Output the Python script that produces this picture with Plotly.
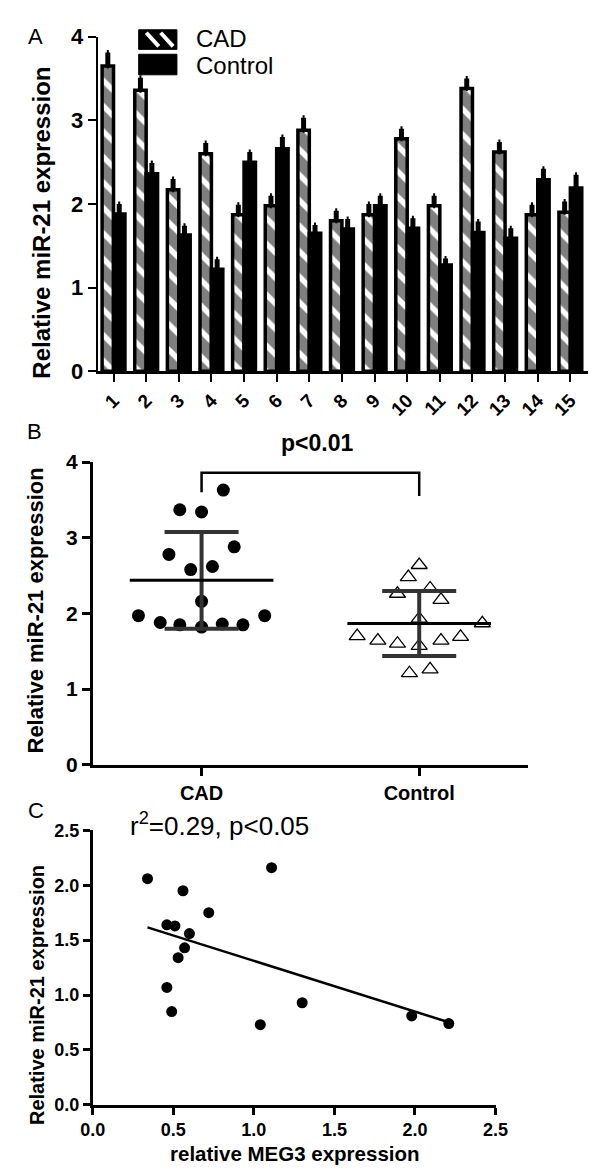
import numpy as np
import plotly.graph_objects as go

FONT = "Liberation Sans, Arial, sans-serif"
W, H = 600, 1173

# ---------------- Panel A data ----------------
samples = [str(i) for i in range(1, 16)]
cad_a = [3.65, 3.36, 2.17, 2.60, 1.87, 1.98, 2.88, 1.80, 1.87, 2.78, 1.98, 3.38, 2.62, 1.87, 1.90]
ctrl_a = [1.88, 2.36, 1.63, 1.22, 2.50, 2.66, 1.65, 1.70, 1.98, 1.71, 1.27, 1.66, 1.59, 2.29, 2.19]
cad_a_err = [0.16, 0.15, 0.13, 0.13, 0.12, 0.12, 0.15, 0.12, 0.13, 0.12, 0.12, 0.12, 0.12, 0.12, 0.13]
ctrl_a_err = [0.12, 0.13, 0.11, 0.12, 0.12, 0.14, 0.10, 0.12, 0.12, 0.12, 0.08, 0.13, 0.12, 0.13, 0.16]

# ---------------- Panel B data ----------------
groups = ["CAD", "Control"]
cad_b = [3.63, 3.37, 3.34, 2.88, 2.78, 2.58, 2.62, 2.16, 1.97, 1.97, 1.88, 1.85, 1.82, 1.86, 1.85]
cad_b_jitter = [0.10, -0.10, 0.0, 0.15, -0.15, -0.05, 0.05, 0.0, -0.29, 0.29, -0.19, -0.10, 0.0, 0.095, 0.19]
ctrl_b = [2.64, 2.48, 2.33, 2.26, 2.18, 1.93, 1.87, 1.70, 1.69, 1.64, 1.64, 1.60, 1.57, 1.21, 1.26]
ctrl_b_jitter = [0.0, -0.05, 0.05, -0.10, 0.10, 0.0, 0.29, -0.285, 0.19, -0.19, 0.10, -0.10, 0.0, -0.045, 0.05]
bracket_y = [3.60, 3.86, 3.86, 3.55]
p_text_b = "p&lt;0.01"

# ---------------- Panel C data ----------------
meg3 = [0.34, 1.11, 0.56, 0.72, 0.46, 0.51, 0.60, 0.57, 0.53, 0.46, 0.49, 1.04, 1.30, 1.98, 2.21]
mir21 = [2.06, 2.16, 1.95, 1.75, 1.64, 1.63, 1.56, 1.43, 1.34, 1.07, 0.85, 0.73, 0.93, 0.81, 0.74]
stat_text_c = "r<sup>2</sup>=0.29, p&lt;0.05"


def px_x(p):
    return p / W


def px_y(p):
    return 1 - p / H


fig = go.Figure()

# Panel A bars
fig.add_trace(go.Bar(
    x=samples, y=cad_a, name="CAD", xaxis="x", yaxis="y",
    marker=dict(color="white", line=dict(color="black", width=3.5),
                pattern=dict(shape="\\", fgcolor="black", bgcolor="white", size=18, solidity=0.7)),
    error_y=dict(type="data", symmetric=False, array=cad_a_err, arrayminus=[0] * len(cad_a),
                 color="black", thickness=5, width=1),
))
fig.add_trace(go.Bar(
    x=samples, y=ctrl_a, name="Control", xaxis="x", yaxis="y",
    marker=dict(color="black", line=dict(color="black", width=3.5)),
    error_y=dict(type="data", symmetric=False, array=ctrl_a_err, arrayminus=[0] * len(ctrl_a),
                 color="black", thickness=5, width=1),
))

# Panel B points
cad_x = [0 + j for j in cad_b_jitter]
ctrl_x = [1 + j for j in ctrl_b_jitter]
fig.add_trace(go.Scatter(x=cad_x, y=cad_b, mode="markers", xaxis="x2", yaxis="y2",
                         marker=dict(symbol="circle", size=13, color="black")))
fig.add_trace(go.Scatter(x=ctrl_x, y=ctrl_b, mode="markers", xaxis="x2", yaxis="y2",
                         marker=dict(symbol="triangle-up-open", size=14, color="black",
                                     line=dict(width=1.3, color="black"))))
for gi, vals in enumerate([cad_b, ctrl_b]):
    m = float(np.mean(vals))
    sd = float(np.std(vals, ddof=1))
    fig.add_trace(go.Scatter(x=[gi], y=[m], mode="markers", xaxis="x2", yaxis="y2",
                             marker=dict(size=1, color="rgba(0,0,0,0)"),
                             error_y=dict(type="data", array=[sd], color="#333333", thickness=4, width=37)))
    fig.add_trace(go.Scatter(x=[gi - 0.33, gi + 0.33], y=[m, m], mode="lines", xaxis="x2", yaxis="y2",
                             line=dict(color="black", width=3)))
fig.add_trace(go.Scatter(x=[0, 0, 1, 1], y=bracket_y, mode="lines", xaxis="x2", yaxis="y2",
                         line=dict(color="black", width=2.5), cliponaxis=False))

# Panel C
fig.add_trace(go.Scatter(x=meg3, y=mir21, mode="markers", xaxis="x3", yaxis="y3",
                         marker=dict(symbol="circle", size=11, color="black")))
slope, intercept = np.polyfit(meg3, mir21, 1)
xl = np.array([min(meg3), max(meg3)])
fig.add_trace(go.Scatter(x=xl, y=slope * xl + intercept, mode="lines", xaxis="x3", yaxis="y3",
                         line=dict(color="black", width=2.5)))

axis_common = dict(showgrid=False, zeroline=False, showline=True, linecolor="black",
                   ticks="outside", tickcolor="black")

fig.update_layout(
    width=W, height=H, margin=dict(l=0, r=0, t=0, b=0),
    paper_bgcolor="white", plot_bgcolor="white", showlegend=False,
    barmode="group", bargap=0.3, bargroupgap=0,
    font=dict(family=FONT, color="black"),
    xaxis=dict(domain=[px_x(80), px_x(593)], anchor="y", type="category",
               range=[-0.49, 14.55], tickangle=-45, linewidth=2.5, ticklen=8, tickwidth=2,
               tickfont=dict(size=19, weight="bold"), **axis_common),
    yaxis=dict(domain=[px_y(359), px_y(17)], anchor="x", range=[0, 4], dtick=1,
               linewidth=2, ticklen=8, tickwidth=2,
               tickfont=dict(size=22, weight="bold"), **axis_common),
    xaxis2=dict(domain=[px_x(75), px_x(530)], anchor="y2", range=[-0.5, 1.5],
                tickvals=[0, 1], ticktext=groups, linewidth=2.5, ticklen=8, tickwidth=2.5,
                tickfont=dict(size=20, weight="bold"), **axis_common),
    yaxis2=dict(domain=[px_y(761), px_y(451.7)], anchor="x2", range=[0, 4], dtick=1,
                linewidth=2.5, ticklen=8, tickwidth=2.5,
                tickfont=dict(size=21, weight="bold"), **axis_common),
    xaxis3=dict(domain=[px_x(75), px_x(496)], anchor="y3", range=[0, 2.5], dtick=0.5,
                tickformat=".1f", linewidth=2.5, ticklen=7, tickwidth=2.5,
                tickfont=dict(size=18, weight="bold"), **axis_common),
    yaxis3=dict(domain=[px_y(1108.5), px_y(828)], anchor="x3", range=[0, 2.5], dtick=0.5,
                tickformat=".1f", linewidth=2.5, ticklen=7, tickwidth=2.5,
                tickfont=dict(size=18, weight="bold"), **axis_common),
)

ann = []


def add_text(text, x, y, size, bold=False, angle=0, xanchor="center"):
    ann.append(dict(text=text, x=px_x(x), y=px_y(y), xref="paper", yref="paper",
                    showarrow=False, textangle=angle, xanchor=xanchor, yanchor="middle",
                    font=dict(size=size, family=FONT, color="black",
                              weight="bold" if bold else "normal")))


# panel letters
add_text("A", 15, 17, 22)
add_text("B", 14, 420, 22)
add_text("C", 16, 808, 22)
# axis titles
add_text("Relative miR-21 expression", 21, 207, 24, bold=True, angle=-90)
add_text("Relative miR-21 expression", 15, 603, 22, bold=True, angle=-90)
add_text("Relative miR-21 expression", 17, 996, 20, bold=True, angle=-90)
add_text("relative MEG3 expression", 286, 1158, 20.5, bold=True)
# legend texts
add_text("CAD", 181, 19, 24, xanchor="left")
add_text("Control", 181, 46, 24, xanchor="left")
# stats text
add_text(p_text_b, 309, 432, 23, bold=True)
add_text(stat_text_c, 112, 822, 26, xanchor="left")

fig.update_layout(annotations=ann)

# legend swatches (decoration)
shapes = [
    dict(type="rect", xref="paper", yref="paper", x0=px_x(123), x1=px_x(163), y0=px_y(30), y1=px_y(10),
         fillcolor="black", line=dict(color="black", width=1)),
    dict(type="rect", xref="paper", yref="paper", x0=px_x(123), x1=px_x(163), y0=px_y(56), y1=px_y(35),
         fillcolor="black", line=dict(color="black", width=1)),
]
for sx in [131, 146]:
    shapes.append(dict(type="line", xref="paper", yref="paper", x0=px_x(sx), y0=px_y(13),
                       x1=px_x(sx + 13), y1=px_y(27), line=dict(color="white", width=4)))
fig.update_layout(shapes=shapes)

fig.write_html("out.html")
